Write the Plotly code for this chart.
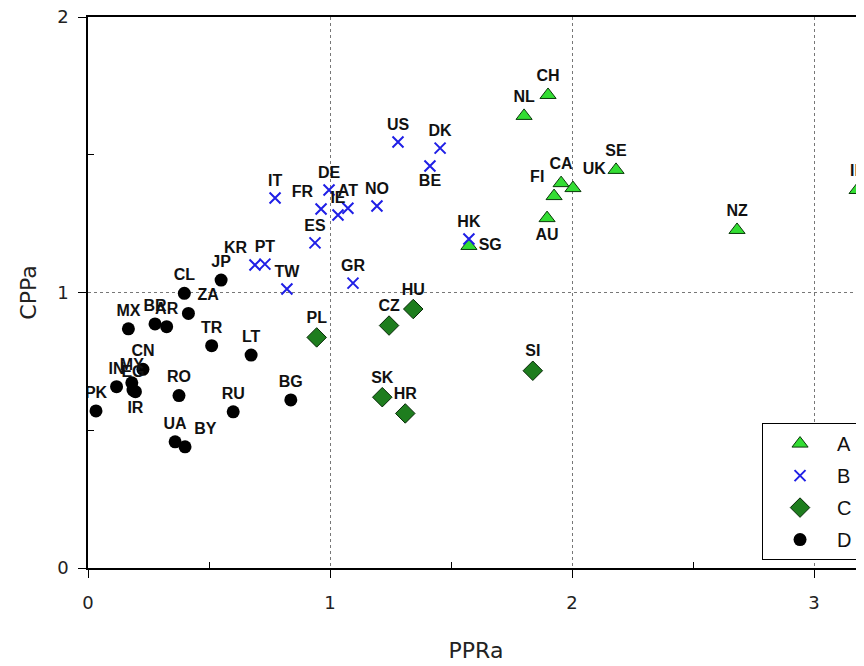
import plotly.graph_objects as go

# ---- data ----
a_names = ["CH", "NL", "SE", "CA", "UK", "FI", "AU", "SG", "NZ", "IL"]
a_x = [1.901, 1.802, 2.182, 1.955, 2.004, 1.926, 1.897, 1.574, 2.682, 3.178]
a_y = [1.717, 1.641, 1.445, 1.397, 1.379, 1.350, 1.270, 1.169, 1.227, 1.372]

b_names = ["US", "DK", "BE", "IT", "DE", "FR", "IE", "AT", "NO", "ES", "HK", "GR", "TW", "KR", "PT"]
b_x = [1.281, 1.455, 1.413, 0.773, 0.996, 0.963, 1.033, 1.074, 1.194, 0.938, 1.574, 1.095, 0.822, 0.690, 0.731]
b_y = [1.546, 1.524, 1.459, 1.343, 1.372, 1.303, 1.281, 1.306, 1.314, 1.180, 1.194, 1.034, 1.013, 1.100, 1.103]

c_names = ["HU", "CZ", "PL", "SI", "SK", "HR"]
c_x = [1.344, 1.244, 0.945, 1.838, 1.216, 1.311]
c_y = [0.940, 0.880, 0.837, 0.716, 0.620, 0.561]

d_names = ["JP", "CL", "ZA", "MX", "BR", "AR", "TR", "LT", "CN", "IN", "MY", "EG", "IR",
           "PK", "RO", "RU", "BG", "UA", "BY"]
d_x = [0.550, 0.398, 0.415, 0.167, 0.277, 0.325, 0.511, 0.674, 0.227, 0.118, 0.181, 0.186, 0.196,
       0.033, 0.376, 0.600, 0.838, 0.360, 0.401]
d_y = [1.045, 0.997, 0.924, 0.868, 0.886, 0.876, 0.807, 0.773, 0.721, 0.658, 0.672, 0.646, 0.640,
       0.570, 0.626, 0.567, 0.610, 0.458, 0.440]

group_names = ["A", "B", "C", "D"]
x_title = "PPRa"
y_title = "CPPa"

# ---- label placement (style) ----
a_pos = ["top center", "top center", "top center", "top center", "top right", "top left",
         "bottom center", "middle right", "top center", "top center"]
b_pos = ["top center", "top center", "bottom center", "top center", "top center", "top left",
         "top center", "top center", "top center", "top center", "top center", "top center",
         "top center", "top left", "top center"]
c_pos = ["top center"] * 6
d_pos = ["top center", "top center", "top right", "top center", "top center", "top center",
         "top center", "top center", "top center", "top center", "top center", "top center",
         "bottom center", "top center", "top center", "top center", "top center", "top center",
         "top right"]

label_font = dict(family="Liberation Sans, Arial, sans-serif", size=16, color="#111111",
                  weight="bold")

fig = go.Figure()

fig.add_trace(go.Scatter(
    x=a_x, y=a_y, text=a_names, mode="markers+text", name=group_names[0],
    textposition=a_pos, textfont=label_font, legendgroup="a",
    marker=dict(symbol="triangle-up", size=14, color="#33dd33",
                line=dict(color="#0a3a0a", width=1)),
))
fig.add_trace(go.Scatter(
    x=b_x, y=b_y, text=b_names, mode="markers+text", name=group_names[1],
    textposition=b_pos, textfont=label_font, legendgroup="b",
    marker=dict(symbol="x-thin", size=11, color="#1f1fe6",
                line=dict(color="#1f1fe6", width=2)),
))
fig.add_trace(go.Scatter(
    x=c_x, y=c_y, text=c_names, mode="markers+text", name=group_names[2],
    textposition=c_pos, textfont=label_font, legendgroup="c",
    marker=dict(symbol="diamond", size=15, color="#1e7d1e",
                line=dict(color="#062806", width=1)),
))
fig.add_trace(go.Scatter(
    x=d_x, y=d_y, text=d_names, mode="markers+text", name=group_names[3],
    textposition=d_pos, textfont=label_font, legendgroup="d",
    marker=dict(symbol="circle", size=13, color="#000000"),
))

tick_font = dict(family="DejaVu Sans, Verdana, sans-serif", size=18, color="#222222")
title_font = dict(family="DejaVu Sans, Verdana, sans-serif", size=22, color="#222222")

# the page body adds an 8px offset, so the figure is sized/placed to compensate
fig.update_layout(
    width=856, height=658,
    margin=dict(l=80, r=0, t=9, b=98),
    paper_bgcolor="white", plot_bgcolor="white",
    showlegend=True,
    legend=dict(
        x=0.8686, y=0.263, xanchor="left", yanchor="top",
        bordercolor="#000000", borderwidth=1, bgcolor="white",
        font=dict(family="Liberation Sans, Arial, sans-serif", size=20, color="#111111"),
        tracegroupgap=3, itemwidth=64,
    ),
    xaxis=dict(
        range=[0, 776 / 242], tickvals=[0, 1, 2, 3], ticktext=["0", "1", "2", "3"],
        ticks="outside", ticklen=8, tickwidth=1, tickcolor="#000",
        showline=True, linecolor="#000", linewidth=1.5, mirror=True,
        showgrid=True, gridcolor="#777777", griddash="dot", gridwidth=1,
        zeroline=False, tickfont=tick_font, ticklabelstandoff=10, automargin=False,
        ticklabeloverflow="allow",
        minor=dict(tickvals=[0.5, 1.5, 2.5], ticks="inside", ticklen=6, tickcolor="#000", showgrid=False),
        title=dict(text=x_title, font=title_font, standoff=30),
    ),
    yaxis=dict(
        range=[0, 2], tickvals=[0, 1, 2], ticktext=["0", "1", "2"],
        ticks="outside", ticklen=8, tickwidth=1, tickcolor="#000",
        showline=True, linecolor="#000", linewidth=1.5, mirror=False,
        showgrid=True, gridcolor="#777777", griddash="dot", gridwidth=1,
        zeroline=False, tickfont=tick_font, ticklabelstandoff=6, automargin=False,
        ticklabeloverflow="allow",
        minor=dict(tickvals=[0.5, 1.5], ticks="inside", ticklen=6, tickcolor="#000", showgrid=False),
        title=dict(text=y_title, font=title_font, standoff=14),
    ),
)

fig.write_html("out.html")
